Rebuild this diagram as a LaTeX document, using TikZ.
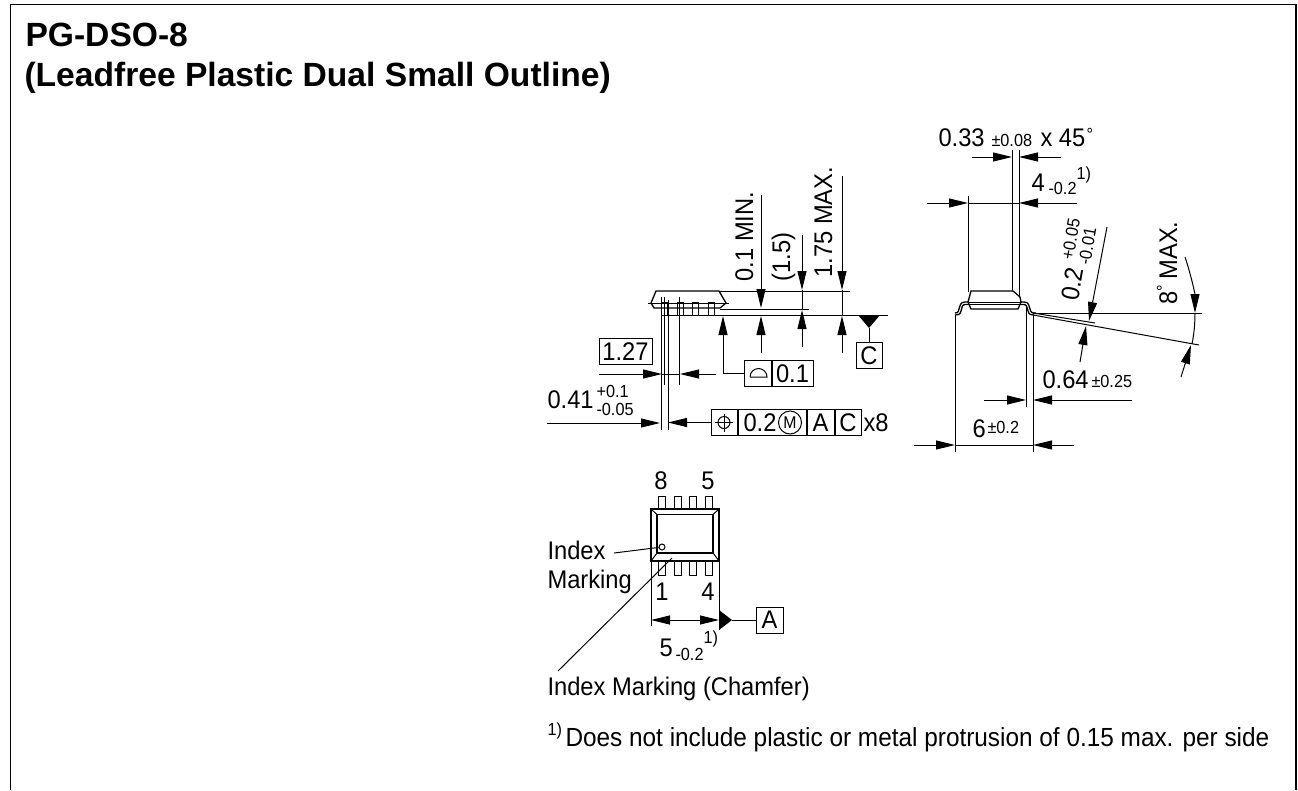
\documentclass[tikz,border=0pt]{standalone}
\usepackage{fontspec}
\setmainfont[FakeStretch=0.93]{Liberation Sans}
\newfontfamily\headingfont{Liberation Sans Bold}
\usetikzlibrary{arrows.meta}

\begin{document}
\begin{tikzpicture}[
                    x=1pt,
                    y=-1pt,
                    line width=1pt,
                    every node/.style={inner sep=0pt},
                    big/.style={anchor=base west, font=\fontsize{25.5}{30}\selectfont},
                    tiny/.style={anchor=base west, font=\fontsize{17.5}{21}\selectfont},
                    heading/.style={anchor=base west, font=\fontsize{33.6}{38}\headingfont},
                    boxed/.style={draw, font=\fontsize{25.5}{30}\selectfont, minimum height=26pt},
                    dimto/.style={-{Triangle[length=19pt,width=9pt]}},
                    outline/.style={line width=1.3pt}
                ]
    \useasboundingbox (0,0) rectangle (1298,790);

    % Frame
    \draw[outline] (10.5,790) -- (10.5,4.5) -- (1296,4.5) -- (1296,790);
    \node[heading] (title1) at (25,46) {PG-DSO-8};
    \node[heading] (title2) at (24,86) {(Leadfree Plastic Dual Small Outline)};

    % Side view
    \draw[outline] (656,291) -- (719,291) -- (726,303) -- (720,308) -- (654,308) -- (651,303) -- cycle;
    \draw (648,303) -- (729,303);
    \draw (661,302) rectangle (667,315);
    \draw (677,302) rectangle (683,315);
    \draw (692,302) rectangle (698,315);
    \draw (708,302) rectangle (714,315);
    \draw (719,291) -- (850,291);
    \draw (720,309) -- (809,309);
    \draw (661,315) -- (888,315);

    \draw[dimto] (761,195) -- (761,308);
    \draw[dimto] (761,353) -- (761,316);
    \draw[dimto] (802,235) -- (802,290);
    \draw (802,290) -- (802,309);
    \draw[dimto] (802,347) -- (802,310);
    \draw[dimto] (842,176) -- (842,290);
    \draw (842,290) -- (842,315);
    \draw[dimto] (842,353) -- (842,316);
    \node[big, rotate=90] (minheight) at (753,282) {0.1 MIN.};
    \node[big, rotate=90] (bodyheight) at (790,282) {(1.5)};
    \node[big, rotate=90] (maxheight) at (832,278) {1.75 MAX.};

    % Datum C
    \node[boxed, minimum width=26pt] (boxC) at (869,355.5) {C};
    \fill (858,315) -- (880,315) -- (869,328) -- cycle;
    \draw (869,328) -- (boxC.north);

    % Flatness
    \node[boxed, minimum width=27pt] (flatsym) at (757.5,373.5) {};
    \node[boxed, minimum width=41pt, anchor=west] (flatval) at (flatsym.east) {0.1};
    \draw (750,377) -- (767,377) arc[start angle=0, end angle=-180, radius=8.5];
    \draw[dimto] (flatsym.west) -- (723,373.5) -- (723,316);

    % Pitch
    \node[boxed, minimum width=53pt] (pitch) at (625.5,351.5) {1.27};
    \draw (661,297) -- (661,430);
    \draw (664,297) -- (664,385);
    \draw (668,300) -- (668,430);
    \draw (679,297) -- (679,385);
    \draw[dimto] (599,374) -- (662,374);
    \draw[dimto] (716,374) -- (680,374);
    \draw (662,374) -- (680,374);

    % Lead width
    \node[big] (leadw) at (547,408) {0.41};
    \node[tiny] (leadwup) at (596,397) {+0.1};
    \node[tiny] (leadwlo) at (596,415) {-0.05};
    \draw[dimto] (547,423) -- (660,423);
    \node[boxed, minimum width=26pt] (possym) at (724,422.5) {};
    \node[boxed, minimum width=68pt, anchor=west] (posval) at (possym.east) {};
    \node[boxed, minimum width=27pt, anchor=west] (posa) at (posval.east) {A};
    \node[boxed, minimum width=26pt, anchor=west] (posc) at (posa.east) {C};
    \draw[dimto] (possym.west) -- (668,422.5);
    \draw (724,422.5) circle (6);
    \draw (715,422.5) -- (733,422.5);
    \draw (724,413.5) -- (724,431.5);
    \node[big] (posnum) at (743,431) {0.2};
    \node[draw, circle, minimum size=23pt, font=\fontsize{17}{20}\selectfont] (posm) at (790,422.5) {M};
    \node[big] (times) at (863,431) {x8};

    % End view
    \draw[outline] (971,291) -- (1013,291) -- (1020,297) -- (1021,302) -- (1018,309) -- (971,309) -- (968,302) -- cycle;
    \draw (968,302) -- (1021,302);
    \draw (968,304.5) -- (1021,304.5);
    \draw[outline] (968,302) -- (965,302) .. controls (960,302) and (960,306) .. (959,309) .. controls (958,313) and (957,313) .. (955,313);
    \draw[outline] (968,304.5) -- (965,304.5) .. controls (962,304.5) and (962,308) .. (961,311) .. controls (960,315) and (958,315) .. (955,315);
    \draw[outline] (1021,302) -- (1024,302) .. controls (1029,302) and (1029,306) .. (1030,309) .. controls (1031,313) and (1032,313) .. (1036,313);
    \draw[outline] (1021,304.5) -- (1024,304.5) .. controls (1027,304.5) and (1027,308) .. (1028,311) .. controls (1029,315) and (1031,315) .. (1034,315);

    \draw (1012,150) -- (1012,291);
    \draw (1019,150) -- (1019,297);
    \draw (968,196) -- (968,292);
    \draw (955,315) -- (955,452);
    \draw (1026,305) -- (1026,407);
    \draw (1033,315) -- (1033,452);

    \node[big] (chamfer) at (938,146) {0.33};
    \node[tiny] (chamfertol) at (991,146) {±0.08};
    \node[big] (chamferang) at (1040,146) {x 45};
    \node[tiny] (chamferdeg) at (1086,140) {°};
    \draw[dimto] (972,157) -- (1012,157);
    \draw[dimto] (1061,157) -- (1019,157);

    \node[big] (bodyw) at (1031,191) {4};
    \node[tiny] (bodywtol) at (1048,194) {-0.2};
    \node[tiny] (bodywnote) at (1076,179) {1)};
    \draw[dimto] (927,203) -- (968,203);
    \draw[dimto] (1077,203) -- (1019,203);
    \draw (968,203) -- (1019,203);

    \draw (1033,313) -- (1202,313);
    \draw (1033,313) -- (1095,323);
    \draw (1033,315) -- (1199,345);

    % Thickness
    \draw[dimto] (1107,227) -- (1089,321);
    \draw[dimto] (1080,362) -- (1086,326);
    \node[big, rotate=80] (thick) at (1078,302) {0.2};
    \node[tiny, rotate=80] (thickup) at (1073,261) {+0.05};
    \node[tiny, rotate=80] (thicklo) at (1090,266) {-0.01};

    % Angle
    \node[big, rotate=90] (angle) at (1177,305) {8};
    \node[tiny, rotate=90] (angledeg) at (1169,292) {°};
    \node[big, rotate=90] (anglemax) at (1177,280) {MAX.};
    \draw[dimto] (1185,257) .. controls (1191,275) and (1195,294) .. (1195,313);
    \draw (1195,313) .. controls (1195,324) and (1194,334) .. (1192,344);
    \draw[dimto] (1181,377) -- (1191,345);

    % Foot and span
    \node[big] (foot) at (1042,388) {0.64};
    \node[tiny] (foottol) at (1091,387) {±0.25};
    \draw[dimto] (984,400) -- (1026,400);
    \draw[dimto] (1132,400) -- (1033,400);

    \node[big] (span) at (972,437) {6};
    \node[tiny] (spantol) at (987,433) {±0.2};
    \draw[dimto] (914,445) -- (955,445);
    \draw[dimto] (1074,445) -- (1033,445);
    \draw (955,445) -- (1033,445);

    % Top view
    \draw[outline] (651,509) rectangle (719,561);
    \draw[outline] (657,514.5) rectangle (713,553);
    \draw (651,509) -- (657,514.5);
    \draw (719,509) -- (713,514.5);
    \draw (651,561) -- (657,553);
    \draw (719,561) -- (713,553);
    \draw (658,496) rectangle (665,509);
    \draw (674,496) rectangle (681,509);
    \draw (689,496) rectangle (696,509);
    \draw (705,496) rectangle (712,509);
    \draw (658,561) rectangle (665,575);
    \draw (674,561) rectangle (681,575);
    \draw (689,561) rectangle (696,575);
    \draw (705,561) rectangle (712,575);
    \node[big, anchor=base] (pin8) at (661,489) {8};
    \node[big, anchor=base] (pin5) at (708,489) {5};
    \node[big, anchor=base] (pin1) at (662,600.5) {1};
    \node[big, anchor=base] (pin4) at (708,600.5) {4};

    \node[draw, circle, minimum size=6pt] (dot) at (662,547) {};
    \node[big] (index) at (547,559) {Index};
    \node[big] (marking) at (547,588) {Marking};
    \node[big] (chamfermark) at (547,695) {Index Marking (Chamfer)};
    \draw (614,553) -- (dot);
    \draw (558,671) -- (672,558);

    \draw (651,561) -- (651,626);
    \draw (719,561) -- (719,630);
    \draw[dimto] (690,620) -- (651,620);
    \draw[dimto] (680,620) -- (719,620);
    \node[big] (length) at (659,656) {5};
    \node[tiny] (lengthtol) at (675,660.5) {-0.2};
    \node[tiny] (lengthnote) at (703,643) {1)};

    % Datum A
    \node[boxed, minimum width=27pt] (boxA) at (769.5,620) {A};
    \fill (719,610) -- (719,630) -- (732,620) -- cycle;
    \draw (732,620) -- (boxA.west);

    % Footnote
    \node[tiny] (notemark) at (547,735) {1)};
    \node[anchor=base west, font=\fontsize{26.2}{31}\selectfont] (note) at (565,746) {Does not include plastic or metal protrusion of 0.15 max. per side};
\end{tikzpicture}
\end{document}
